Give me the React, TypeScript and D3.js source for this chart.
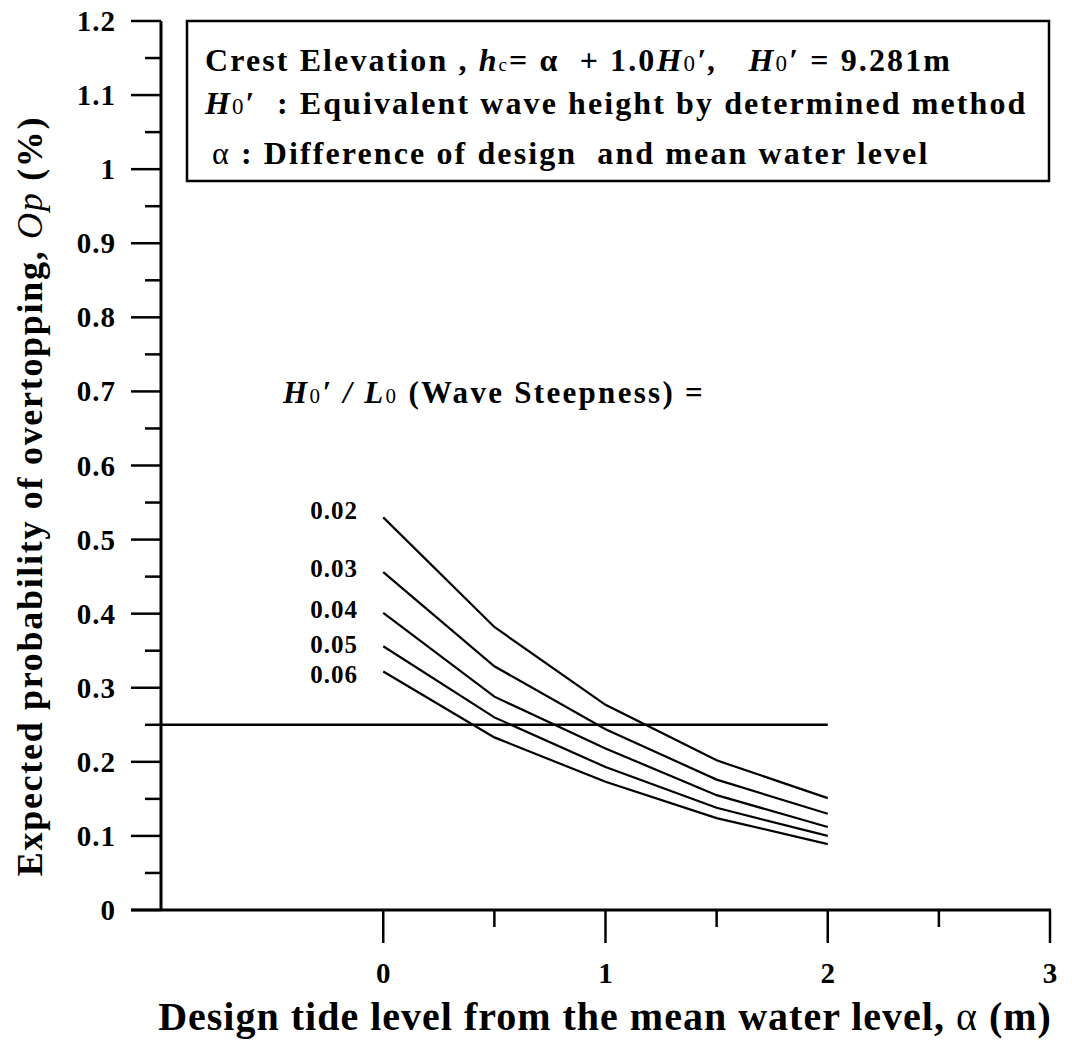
import React from "react";
import * as d3 from "d3";

// ---- data ----
const alpha = [0, 0.5, 1, 1.5, 2];
const steepnessLabels = ["0.02", "0.03", "0.04", "0.05", "0.06"];
const op002 = [0.53, 0.382, 0.277, 0.202, 0.151];
const op003 = [0.456, 0.329, 0.244, 0.176, 0.13];
const op004 = [0.401, 0.288, 0.218, 0.155, 0.112];
const op005 = [0.356, 0.26, 0.193, 0.138, 0.1];
const op006 = [0.322, 0.233, 0.173, 0.124, 0.089];
const labelOp = [0.528, 0.45, 0.394, 0.347, 0.306];
const headingOp = 0.685;
const threshold = 0.25;
const thresholdRange = [-1, 2];

const yTickValues = [0, 0.1, 0.2, 0.3, 0.4, 0.5, 0.6, 0.7, 0.8, 0.9, 1, 1.1, 1.2];
const yTickLabels = ["0", "0.1", "0.2", "0.3", "0.4", "0.5", "0.6", "0.7", "0.8", "0.9", "1", "1.1", "1.2"];
const yMinorTicks = [0.05, 0.15, 0.25, 0.35, 0.45, 0.55, 0.65, 0.75, 0.85, 0.95, 1.05, 1.15];
const xTickValues = [0, 1, 2, 3];
const xTickLabels = ["0", "1", "2", "3"];
const xMinorTicks = [0.5, 1.5, 2.5];

const seriesValues = [op002, op003, op004, op005, op006];

const FONT = "'Liberation Serif', 'Times New Roman', serif";

export default function App() {
  const x = d3.scaleLinear().domain([-1, 3]).range([161, 1050]);
  const y = d3.scaleLinear().domain([0, 1.2]).range([910, 21]);
  const line = d3
    .line<number>()
    .x((_, i) => x(alpha[i]))
    .y((d) => y(d));

  const axisX0 = x(-1);
  const axisY0 = y(0);
  const boxText = { whiteSpace: "pre" as const, letterSpacing: "2.1px" };

  return (
    <svg
      width={1072}
      height={1040}
      style={{ position: "absolute", left: 0, top: 0, background: "#fff" }}
      fontFamily={FONT}
      fontWeight="bold"
    >
      <rect x={0} y={0} width={1072} height={1040} fill="#fff" />
      {/* legend box */}
      <rect x={187} y={21} width={862} height={160} fill="none" stroke="#000" strokeWidth={2.5} />
      <text x={205} y={71} fontSize={32} style={boxText}>
        <tspan>Crest Elevation , </tspan>
        <tspan fontStyle="italic">h</tspan>
        <tspan fontSize={19} fontWeight="normal">c</tspan>
        <tspan>= α  + 1.0</tspan>
        <tspan fontStyle="italic">H</tspan>
        <tspan fontSize={23} fontWeight="normal">0</tspan>
        <tspan fontStyle="italic">′,   H</tspan>
        <tspan fontSize={23} fontWeight="normal">0</tspan>
        <tspan>′ = 9.281m</tspan>
      </text>
      <text x={205} y={114} fontSize={32} style={boxText}>
        <tspan fontStyle="italic">H</tspan>
        <tspan fontSize={23} fontWeight="normal">0</tspan>
        <tspan>′  : Equivalent wave height by determined method</tspan>
      </text>
      <text x={212} y={164} fontSize={32} style={boxText}>
        <tspan fontWeight="normal">α</tspan>
        <tspan> : Difference of design  and mean water level</tspan>
      </text>

      {/* y axis */}
      <line x1={axisX0} x2={axisX0} y1={y(1.2)} y2={axisY0} stroke="#000" strokeWidth={3} />
      {yTickValues.map((v, i) => (
        <g key={"yt" + i}>
          <line x1={131} x2={axisX0} y1={y(v)} y2={y(v)} stroke="#000" strokeWidth={2.5} />
          <text
            x={116}
            y={y(v) + 10}
            textAnchor="end"
            fontSize={29}
            style={{ letterSpacing: "1px" }}
          >
            {yTickLabels[i]}
          </text>
        </g>
      ))}
      {yMinorTicks.map((v, i) => (
        <line key={"ym" + i} x1={145} x2={axisX0} y1={y(v)} y2={y(v)} stroke="#000" strokeWidth={2.5} />
      ))}

      {/* x axis */}
      <line x1={131} x2={x(3) + 1} y1={axisY0} y2={axisY0} stroke="#000" strokeWidth={3} />
      {xTickValues.map((v, i) => (
        <g key={"xt" + i}>
          <line x1={x(v)} x2={x(v)} y1={axisY0} y2={axisY0 + 33} stroke="#000" strokeWidth={2.5} />
          <text x={x(v)} y={983} textAnchor="middle" fontSize={29}>
            {xTickLabels[i]}
          </text>
        </g>
      ))}
      {xMinorTicks.map((v, i) => (
        <line key={"xm" + i} x1={x(v)} x2={x(v)} y1={axisY0} y2={axisY0 + 17} stroke="#000" strokeWidth={2.5} />
      ))}

      {/* axis titles */}
      <text x={605} y={1030} textAnchor="middle" fontSize={40} style={{ letterSpacing: "1px" }}>
        <tspan>Design tide level from the mean water level, </tspan>
        <tspan fontWeight="normal">α</tspan>
        <tspan> (m)</tspan>
      </text>
      <text
        transform={`translate(42, ${496}) rotate(-90)`}
        textAnchor="middle"
        fontSize={36}
        style={{ letterSpacing: "1.7px" }}
      >
        <tspan>Expected probability of overtopping, </tspan>
        <tspan fontStyle="italic" fontWeight="normal">Op</tspan>
        <tspan> (%)</tspan>
      </text>

      {/* threshold line */}
      <line
        x1={x(thresholdRange[0])}
        x2={x(thresholdRange[1])}
        y1={y(threshold)}
        y2={y(threshold)}
        stroke="#000"
        strokeWidth={2.5}
      />

      {/* series */}
      {seriesValues.map((vals, i) => (
        <path key={"s" + i} d={line(vals) || ""} fill="none" stroke="#000" strokeWidth={2.2} />
      ))}
      {steepnessLabels.map((lab, i) => (
        <text
          key={"l" + i}
          x={358}
          y={y(labelOp[i])}
          textAnchor="end"
          fontSize={25}
          style={{ letterSpacing: "1px" }}
        >
          {lab}
        </text>
      ))}

      {/* steepness heading */}
      <text x={283} y={y(headingOp)} fontSize={31} style={{ whiteSpace: "pre", letterSpacing: "2.3px" }}>
        <tspan fontStyle="italic">H</tspan>
        <tspan fontSize={21} fontWeight="normal">0</tspan>
        <tspan fontStyle="italic">′ / L</tspan>
        <tspan fontSize={21} fontWeight="normal">0</tspan>
        <tspan> (Wave Steepness) =</tspan>
      </text>
    </svg>
  );
}
